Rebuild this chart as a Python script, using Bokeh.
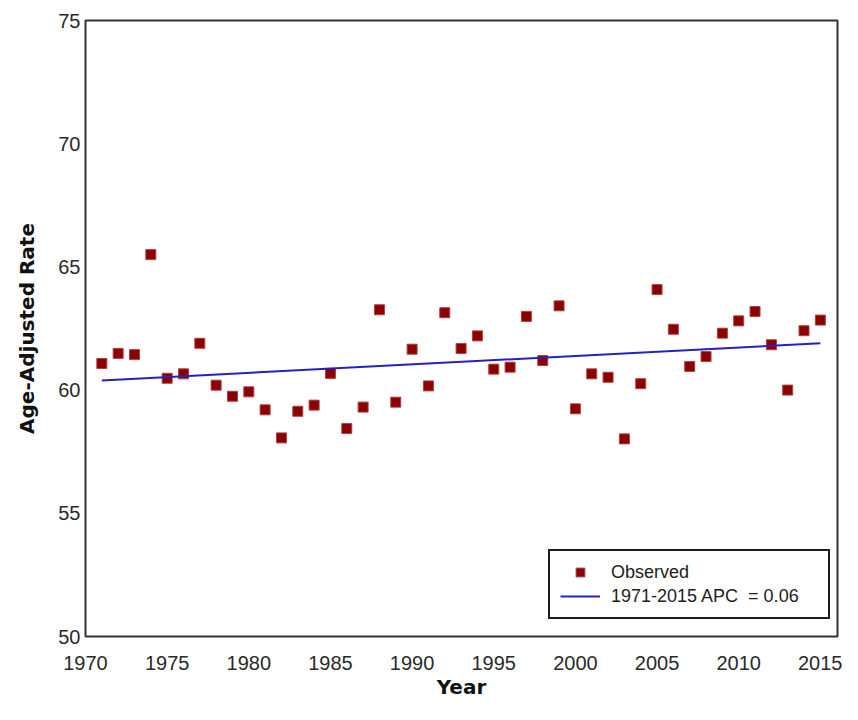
from bokeh.plotting import figure
from bokeh.models import Range1d, FixedTicker, Legend, LegendItem, ColumnDataSource
from bokeh.embed import file_html
from bokeh.resources import INLINE

# Observed age-adjusted rates
years = list(range(1971, 2016))
observed = [61.08, 61.49, 61.44, 65.50, 60.48, 60.66, 61.90, 60.20, 59.75, 59.93,
            59.20, 58.06, 59.14, 59.39, 60.68, 58.44, 59.31, 63.26, 59.51, 61.66,
            60.17, 63.14, 61.69, 62.20, 60.85, 60.93, 62.99, 61.20, 63.42, 59.24,
            60.66, 60.52, 58.02, 60.26, 64.08, 62.47, 60.96, 61.36, 62.31, 62.81,
            63.19, 61.84, 60.00, 62.41, 62.84]

# Fitted joinpoint trend (1971-2015, APC = 0.06)
trend_years = [1971, 2015]
trend_values = [60.39, 61.90]

x_ticks = [1970, 1975, 1980, 1985, 1990, 1995, 2000, 2005, 2010, 2015]
y_ticks = [50, 55, 60, 65, 70, 75]

obs_label = "Observed"
trend_label = "1971-2015 APC\u00a0 = 0.06"

p = figure(width=842, height=704, output_backend="svg", toolbar_location=None,
           x_range=Range1d(1970, 2016.05), y_range=Range1d(50, 75),
           min_border_left=85, min_border_right=5, min_border_top=20, min_border_bottom=68)

p.background_fill_color = "white"
p.border_fill_color = "white"
p.outline_line_color = "#333333"
p.outline_line_width = 2
p.xgrid.grid_line_color = None
p.ygrid.grid_line_color = None

src = ColumnDataSource(dict(year=years, rate=observed))
r_obs = p.scatter("year", "rate", source=src, marker="square", size=10,
                  fill_color="#8B0000", line_color="#B04040", line_width=1)
r_trend = p.line(trend_years, trend_values, line_color="#2222C0", line_width=2)

for ax in (p.xaxis[0], p.yaxis[0]):
    ax.axis_line_color = None
    ax.major_tick_line_color = None
    ax.minor_tick_line_color = None
    ax.major_tick_out = 0
    ax.major_tick_in = 0
    ax.major_label_text_font = "Liberation Sans"
    ax.major_label_text_font_size = "20px"
    ax.major_label_text_color = "#2a2a2a"
    ax.axis_label_text_font = "DejaVu Sans"
    ax.axis_label_text_font_style = "bold"
    ax.axis_label_text_font_size = "20px"
    ax.axis_label_text_color = "#111111"

p.xaxis[0].ticker = FixedTicker(ticks=x_ticks)
p.yaxis[0].ticker = FixedTicker(ticks=y_ticks)
p.xaxis[0].axis_label = "Year"
p.yaxis[0].axis_label = "Age-Adjusted Rate"
p.xaxis[0].major_label_standoff = 19
p.xaxis[0].axis_label_standoff = 2
p.yaxis[0].major_label_standoff = 5
p.yaxis[0].axis_label_standoff = 16

legend = Legend(items=[LegendItem(label=obs_label, renderers=[r_obs]),
                       LegendItem(label=trend_label, renderers=[r_trend])],
                location=(463, 17), margin=0, padding=10, spacing=2,
                glyph_width=40, glyph_height=22, label_height=22, label_width=207,
                label_standoff=11,
                label_text_font="Liberation Sans", label_text_font_size="18px",
                label_text_color="#222222",
                border_line_color="#1a1a1a", border_line_width=2, border_line_alpha=1.0,
                background_fill_color="white", background_fill_alpha=1.0)
p.add_layout(legend)

open("out.html", "w").write(file_html(p, INLINE))
